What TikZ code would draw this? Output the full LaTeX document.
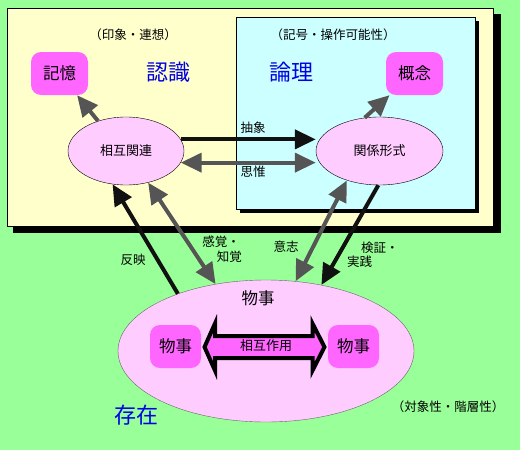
\documentclass[tikz,border=0pt]{standalone}
\usepackage{fontspec}
\setmainfont{Noto Sans CJK JP}
\usetikzlibrary{arrows.meta,shapes.geometric}
\definecolor{bggreen}{RGB}{153,255,153}
\definecolor{yel}{RGB}{255,255,204}
\definecolor{cya}{RGB}{204,255,255}
\definecolor{pinkf}{RGB}{255,204,255}
\definecolor{mag}{RGB}{255,102,255}
\definecolor{tblue}{RGB}{0,0,230}
\definecolor{garr}{RGB}{85,85,85}
\definecolor{barr}{RGB}{17,17,17}
\begin{document}
\begin{tikzpicture}[x=1pt,y=-1pt,
  lbl/.style={inner sep=0pt,font=\fontsize{12.5}{15}\selectfont},
  bigt/.style={inner sep=0pt,text=tblue,font=\fontsize{22}{24}\selectfont},
  mbox/.style={fill=mag,rounded corners=10pt,minimum width=57pt,minimum height=43pt,inner sep=0pt,font=\fontsize{16.5}{18}\selectfont},
  oval/.style={ellipse,draw,fill=pinkf,inner sep=0pt,font=\fontsize{13}{15}\selectfont},
  blk/.style={line width=4pt,draw=barr,-{Triangle[length=21pt,width=19pt]}},
  gry/.style={line width=4pt,draw=garr,-{Triangle[length=21pt,width=19pt]}},
  gry2/.style={line width=4pt,draw=garr,{Triangle[length=21pt,width=19pt]}-{Triangle[length=21pt,width=19pt]}}
]
\useasboundingbox (0,0) rectangle (520,450);
\fill[bggreen] (0,0) rectangle (520,450);
% boxes with shadows
\fill[black] (13,14) rectangle (501,233);
\draw[fill=yel] (7,8) rectangle (493,226);
\fill[black] (240,21) rectangle (479,213);
\draw[fill=cya] (236,17) rectangle (475,209);

\node[lbl] (imp) at (133,35) {（印象・連想）};
\node[lbl] (sym) at (333,35) {（記号・操作可能性）};
\node[bigt] (nin) at (168,72) {認識};
\node[bigt] (ron) at (291,72) {論理};
\node[mbox] (mem) at (59.5,73.5) {記憶};
\node[mbox] (con) at (414.5,73.5) {概念};
\node[oval,minimum width=116pt,minimum height=68pt] (rel) at (126,151) {相互関連};
\node[oval,minimum width=127pt,minimum height=68pt] (form) at (379.5,151) {関係形式};

% big ellipse
\node[ellipse,draw=black!60,fill=pinkf,minimum width=296pt,minimum height=142pt,inner sep=0pt] (big) at (266,351) {};
\node[lbl,font=\fontsize{16.5}{18}\selectfont] (bigl) at (258,298) {物事};
\node[mbox,minimum width=51pt] (thL) at (175.5,346.5) {物事};
\node[mbox,minimum width=51pt] (thR) at (353.5,346.5) {物事};

% interaction double arrow
\draw[line width=4pt,fill=mag,line join=miter] (204.5,347) -- (215,323.5) -- (215,336) -- (312.5,336) -- (312.5,323.5) -- (324.5,347) -- (312.5,370.5) -- (312.5,358) -- (215,358) -- (215,370.5) -- cycle;
\node[lbl,font=\fontsize{13}{15}\selectfont] (inter) at (266,346) {相互作用};

% arrows
\draw[gry] (rel.133) -- (mem.-51);
\draw[gry] (form.114) -- (con.221);
\draw[blk] (rel.12) -- (rel.12 -| form.west);
\draw[gry2] (rel.-12) -- (rel.-12 -| form.west);
\draw[blk] (big.147) -- (rel.248);
\draw[gry2] (rel.305) -- (big.127);
\draw[gry2] (form.222) -- (big.67);
\draw[blk] (form.268) -- (big.50);

% labels
\node[lbl] (abs) at (253,128) {抽象};
\node[lbl] (shi) at (253,172) {思惟};
\node[lbl] (han) at (133,260) {反映};
\node[lbl,anchor=east] (kan1) at (240,242) {感覚・};
\node[lbl,anchor=east] (kan2) at (242,257) {知覚};
\node[lbl] (ishi) at (286,247) {意志};
\node[lbl,anchor=west] (ken) at (361,248) {検証・};
\node[lbl,anchor=west] (jis) at (347,262) {実践};
\node[bigt] (son) at (136,415) {存在};
\node[lbl] (tai) at (448,407) {（対象性・階層性）};
\end{tikzpicture}
\end{document}
